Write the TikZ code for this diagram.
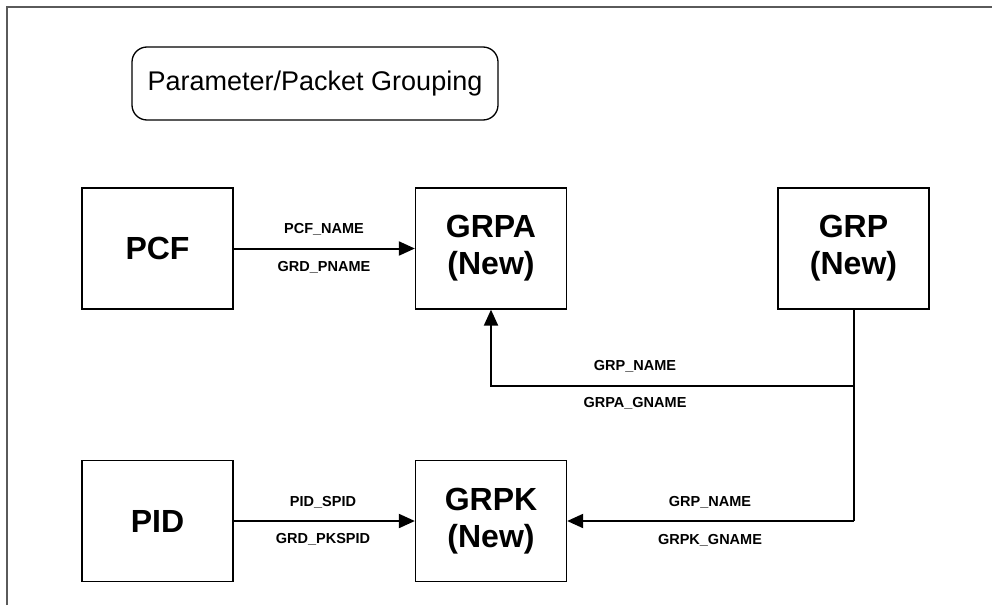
\documentclass[tikz,border=0pt]{standalone}
\usepackage{fontspec}
\setmainfont{Liberation Sans}
\usetikzlibrary{arrows.meta,positioning,calc}
\definecolor{frameGrey}{HTML}{5A5A5A}

\begin{document}
\begin{tikzpicture}[x=1pt, y=-1pt,
  tbl/.style={draw, line width=1.3pt, minimum width=151pt, minimum height=121pt, inner sep=0pt, align=center, font=\fontsize{32}{37}\selectfont\bfseries},
  titlebox/.style={draw, line width=1.3pt, rounded corners=15pt, minimum width=366pt, minimum height=73pt, font=\fontsize{27}{30}\selectfont},
  lbl/.style={font=\fontsize{14.5}{16}\selectfont\bfseries, inner sep=1pt},
  link/.style={line width=2pt, -{Triangle[length=16pt, width=14pt]}},
]
\useasboundingbox (0,0) rectangle (992,605);
% ---- frame ----
\draw[frameGrey, line width=2pt] (7,605) -- (7,7) -- (992,7);
% ---- title ----
\node[titlebox] (title) at (315,83.5){Parameter/Packet Grouping};
% ---- tables ----
\node[tbl] (pcf)  at (157.5,248.5){PCF};
\node[tbl] (grpa) at (491,248.5){GRPA\\(New)};
\node[tbl] (grp)  at (853.5,248.5){GRP\\(New)};
\node[tbl] (pid)  at (157.5,521){PID};
\node[tbl] (grpk) at (491,521){GRPK\\(New)};
% ---- links ----
\coordinate (split) at ($(grp.south)+(0,76)$);
\coordinate (turn) at (grp.south |- grpk.east);
\draw[link] (pcf) -- (grpa);
\draw[link] (pid) -- (grpk);
\draw[line width=2pt] (grp.south) -- (turn);
\draw[link] (split) -| (grpa.south);
\draw[link] (turn) -- (grpk.east);
% ---- key labels ----
\node[lbl] (pcfname) at (324,229){PCF\_NAME};
\node[lbl] (grdpname) at (324,267){GRD\_PNAME};
\node[lbl] (grpname1) at (635,366){GRP\_NAME};
\node[lbl] (grpagname) at (635,403){GRPA\_GNAME};
\node[lbl] (pidspid) at (323,502){PID\_SPID};
\node[lbl] (grdpkspid) at (323,539){GRD\_PKSPID};
\node[lbl] (grpname2) at (710,502){GRP\_NAME};
\node[lbl] (grpkgname) at (710,540){GRPK\_GNAME};
\end{tikzpicture}
\end{document}
